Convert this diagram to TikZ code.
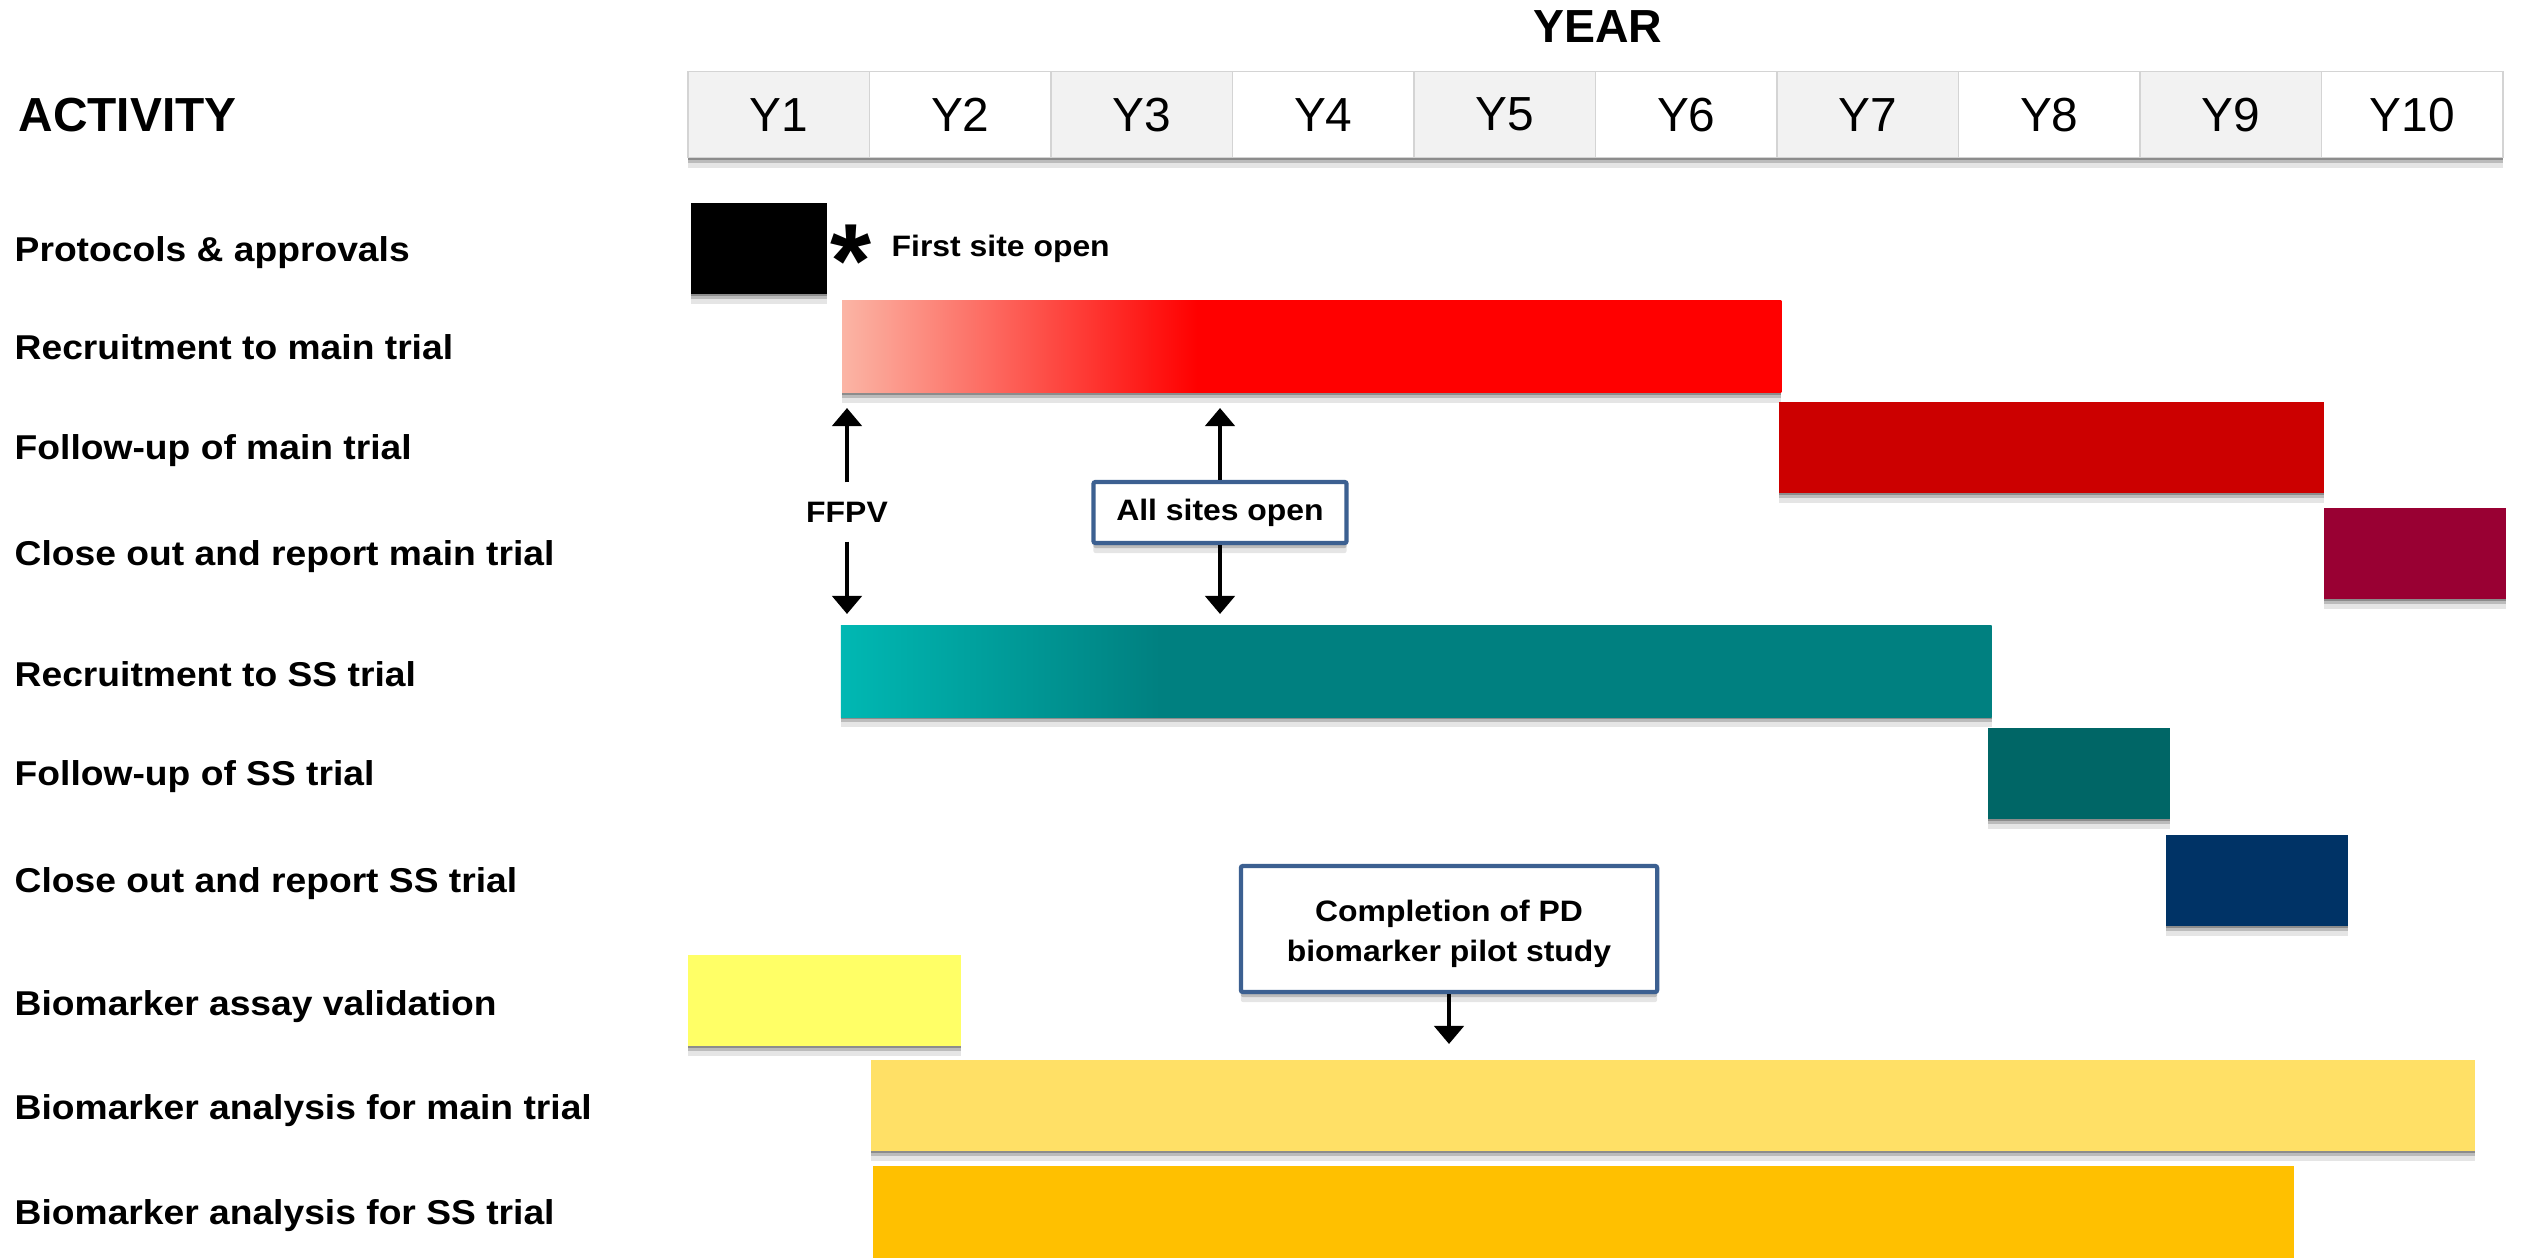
\documentclass[tikz,border=0pt]{standalone}
\usepackage{fontspec}
\setmainfont{Liberation Sans}
\newfontfamily\rowfont[FakeStretch=1.08]{Liberation Sans}
\usetikzlibrary{arrows.meta,fit,shadows}

\definecolor{cellgray}{HTML}{F2F2F2}
\definecolor{cellline}{HTML}{D4D4D4}
\definecolor{boxblue}{RGB}{60,96,145}
\definecolor{recpale}{HTML}{FBB5A5}
\definecolor{fumain}{HTML}{CC0000}
\definecolor{closemain}{HTML}{990033}
\definecolor{tealpale}{HTML}{00B8B3}
\definecolor{tealbar}{HTML}{008080}
\definecolor{fuss}{HTML}{006666}
\definecolor{closess}{HTML}{003366}
\definecolor{assay}{HTML}{FFFF66}
\definecolor{bmmain}{HTML}{FFE066}
\definecolor{bmss}{HTML}{FFC000}

\pgfdeclarehorizontalshading{recgrad}{100bp}{color(0bp)=(recpale); color(25bp)=(recpale); color(43.9bp)=(red); color(100bp)=(red)}
\pgfdeclarehorizontalshading{tealgrad}{100bp}{color(0bp)=(tealpale); color(25bp)=(tealpale); color(38.9bp)=(tealbar); color(100bp)=(tealbar)}

\tikzset{
  softshadow/.style={
    general shadow={shadow yshift=-0.02cm, fill=black, opacity=0.25},
    general shadow={shadow yshift=-0.05cm, fill=black, opacity=0.18},
    general shadow={shadow yshift=-0.1cm, fill=black, opacity=0.1}},
  bar/.style={rectangle, inner sep=0pt, outer sep=0pt, draw=none, softshadow},
  headrow/.style={rectangle, inner sep=0pt, outer sep=0pt, fill=white, softshadow},
  yearcell/.style={rectangle, draw=cellline, line width=0.4pt, inner sep=0pt,
    minimum width=1.815cm, minimum height=0.86cm, font=\fontsize{13.6}{16}\selectfont},
  heading/.style={inner sep=0pt, font=\bfseries\fontsize{13.6}{16}\selectfont},
  rowlabel/.style={anchor=base west, inner sep=0pt, font=\rowfont\bfseries\fontsize{9.8}{11}\selectfont},
  note/.style={inner sep=0pt, font=\rowfont\bfseries\fontsize{8.4}{11.4}\selectfont},
  callout/.style={note, rectangle, draw=boxblue, line width=1.2pt, fill=white,
    rounded corners=0.02cm, align=center, softshadow},
  arr/.style={line width=1.4pt, -{Triangle[width=0.29cm,length=0.18cm]}}
}

\begin{document}
\begin{tikzpicture}[x=0.01cm,y=-0.01cm]
\fill[white, use as bounding box] (0,0) rectangle (2521,1258);

\node[heading, anchor=base, font=\bfseries\fontsize{13.2}{16}\selectfont] (year) at (1598,42.7) {YEAR};
\node[heading, anchor=base west] (activity) at (18,131.7) {ACTIVITY};

\node[headrow, fit={(688,71.7) (2503,157.7)}] (yearrow) {};
\node[yearcell, fill=cellgray] (Y1) at (778.75,114.7) {Y1};
\node[yearcell, fill=white] (Y2) at (960.25,114.7) {Y2};
\node[yearcell, fill=cellgray] (Y3) at (1141.75,114.7) {Y3};
\node[yearcell, fill=white] (Y4) at (1323.25,114.7) {Y4};
\node[yearcell, fill=cellgray] (Y5) at (1504.75,114.7) {Y5};
\node[yearcell, fill=white] (Y6) at (1686.25,114.7) {Y6};
\node[yearcell, fill=cellgray] (Y7) at (1867.75,114.7) {Y7};
\node[yearcell, fill=white] (Y8) at (2049.25,114.7) {Y8};
\node[yearcell, fill=cellgray] (Y9) at (2230.75,114.7) {Y9};
\node[yearcell, fill=white] (Y10) at (2412.25,114.7) {Y10};

\node[rowlabel] (L1) at (14,261.7) {Protocols \& approvals};
\node[rowlabel] (L2) at (14,360) {Recruitment to main trial};
\node[rowlabel] (L3) at (14,460) {Follow-up of main trial};
\node[rowlabel] (L4) at (14,565) {Close out and report main trial};
\node[rowlabel] (L5) at (14,686) {Recruitment to SS trial};
\node[rowlabel] (L6) at (14,785.5) {Follow-up of SS trial};
\node[rowlabel] (L7) at (14,892.5) {Close out and report SS trial};
\node[rowlabel] (L8) at (14,1015.4) {Biomarker assay validation};
\node[rowlabel] (L9) at (14,1119) {Biomarker analysis for main trial};
\node[rowlabel] (L10) at (14,1224) {Biomarker analysis for SS trial};

\node[bar, fill=black, fit={(690.6,203) (826.8,294)}] (protocols) {};
\node[bar, shade, shading=recgrad, fit={(842,301) (1781.3,393)}] (recmain) {};
\node[bar, fill=fumain, fit={(1779,402) (2323.8,493)}] (followmain) {};
\node[bar, fill=closemain, fit={(2323.8,508) (2505.8,599)}] (closeoutmain) {};
\node[bar, shade, shading=tealgrad, fit={(840.9,625) (1991.5,717)}] (recss) {};
\node[bar, fill=fuss, fit={(1988,728) (2170,819)}] (followss) {};
\node[bar, fill=closess, fit={(2166.4,835) (2348.4,926)}] (closeoutss) {};
\node[bar, fill=assay, fit={(688.2,955) (960.6,1046)}] (assayval) {};
\node[bar, fill=bmmain, fit={(871.4,1060) (2475.2,1151)}] (bmmainbar) {};
\node[bar, fill=bmss, fit={(872.6,1166) (2294.4,1258)}] (bmssbar) {};

\node[anchor=base west, inner sep=0pt, font=\bfseries\fontsize{30}{30}\selectfont] (star) at (830,298) {*};
\node[note, anchor=base west] (firstsite) at (891,256.7) {First site open};

\node[note, minimum height=0.58cm] (ffpv) at (847,512) {FFPV};
\node[callout, minimum width=2.53cm, minimum height=0.61cm] (allsites) at (1220,512.5) {All sites open};
\node[callout, minimum width=4.16cm, minimum height=1.26cm] (pdpilot) at (1449,929) {\rule{0pt}{0.31cm}Completion of PD\\biomarker pilot study};

\coordinate (ffpvup) at (847,408);
\coordinate (ffpvdown) at (847,614);
\coordinate (allup) at (1220,408);
\coordinate (alldown) at (1220,614);
\coordinate (pddown) at (1449,1044);

\draw[arr] (ffpv.north) -- (ffpvup);
\draw[arr] (ffpv.south) -- (ffpvdown);
\draw[arr] (allsites.north) -- (allup);
\draw[arr] (allsites.south) -- (alldown);
\draw[arr] (pdpilot.south) -- (pddown);
\end{tikzpicture}
\end{document}
